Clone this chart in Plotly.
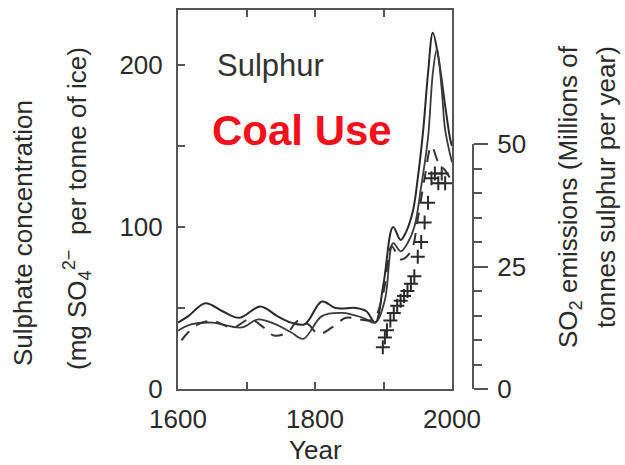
import plotly.graph_objects as go

# ---- data ----
years_a = [1600, 1615, 1640, 1665, 1690, 1720, 1745, 1765, 1785, 1810, 1830, 1860, 1875, 1888,
           1900, 1914, 1925, 1933, 1943, 1950, 1958, 1965, 1972, 1980, 1990, 1997, 2000]
sulph_a = [41, 45, 53, 48, 44, 51, 45, 41, 40, 54, 50, 50, 48, 41,
           65, 100, 92, 97, 110, 130, 160, 195, 220, 205, 175, 155, 150]

years_b = [1600, 1620, 1650, 1693, 1717, 1742, 1765, 1783, 1810, 1840, 1870, 1888,
           1902, 1914, 1925, 1935, 1945, 1955, 1965, 1972, 1978, 1985, 1990, 2000]
sulph_b = [36, 40, 41, 38, 43, 40, 35, 31, 45, 47, 44, 41,
           55, 90, 85, 90, 100, 125, 155, 195, 210, 185, 160, 140]

years_c = [1605, 1615, 1630, 1650, 1680, 1705, 1725, 1740, 1760, 1775, 1790, 1805, 1825, 1845,
           1865, 1885, 1900, 1912, 1925, 1940, 1950, 1960, 1970, 1980, 1990, 2000]
sulph_c = [30, 35, 40, 42, 38, 43, 38, 33, 35, 42, 40, 34, 38, 44,
           43, 43, 60, 88, 80, 85, 105, 130, 150, 140, 135, 128]

years_so2 = [1899, 1902, 1905, 1910, 1915, 1920, 1925, 1930, 1935, 1940, 1945, 1950,
             1955, 1960, 1965, 1970, 1975, 1980, 1985, 1990]
so2 = [8.5, 10.5, 12, 14, 15.5, 17, 18, 19, 20, 21.5, 23, 27,
       30, 34, 38, 43, 44, 42, 44, 42]

x_ticks = [1600, 1700, 1800, 1900, 2000]
x_ticktext = ["1600", "", "1800", "", "2000"]
y_ticks = [0, 50, 100, 150, 200]
y_ticktext = ["0", "", "100", "", "200"]
y2_ticks = [0, 25, 50]

# ---- layout geometry ----
W, H = 625, 465
ML, MR, MT, MB = 178, 145, 10, 76
PW, PH = W - ML - MR, H - MT - MB


def px(xp):
    return (xp - ML) / PW


def py(yp):
    return (H - MB - yp) / PH


FONT = "Liberation Sans, Arial, Helvetica, sans-serif"
INK = "#2a2a2a"
AX = "#555555"

fig = go.Figure()
fig.add_trace(go.Scatter(x=years_a, y=sulph_a, mode="lines", line=dict(color=INK, width=2, shape="spline"),
                         showlegend=False))
fig.add_trace(go.Scatter(x=years_b, y=sulph_b, mode="lines", line=dict(color="#3a3a3a", width=1.8, shape="spline"),
                         showlegend=False))
fig.add_trace(go.Scatter(x=years_c, y=sulph_c, mode="lines",
                         line=dict(color="#333333", width=2, dash="12px,9px", shape="spline"),
                         showlegend=False))
fig.add_trace(go.Scatter(x=years_so2, y=so2, mode="markers", yaxis="y3",
                         marker=dict(symbol="cross-thin", size=10, line=dict(color=INK, width=2)),
                         showlegend=False, cliponaxis=False))

x_end = px(452)
fig.update_layout(
    width=W, height=H,
    margin=dict(l=ML, r=MR, t=MT, b=MB, pad=0, autoexpand=False),
    paper_bgcolor="white", plot_bgcolor="rgba(0,0,0,0)",
    font=dict(family=FONT, size=26, color=INK),
    xaxis=dict(domain=[0, x_end], range=[1600, 2000], tickvals=x_ticks, ticktext=x_ticktext,
               ticks="inside", ticklen=7, tickwidth=1.5, tickcolor=AX, automargin=False,
               showline=True, linecolor=AX, linewidth=2, mirror="ticks",
               showgrid=False, zeroline=False, ticklabelstandoff=6),
    yaxis=dict(domain=[0, 1], range=[0, 234], tickvals=y_ticks, ticktext=y_ticktext,
               ticks="inside", ticklen=7, tickwidth=1.5, tickcolor=AX, automargin=False,
               showline=True, linecolor=AX, linewidth=2, mirror=True,
               showgrid=False, zeroline=False, ticklabelstandoff=8),
    yaxis3=dict(domain=[0, py(144)], range=[0, 50], anchor="free", side="right", automargin=False,
                position=px(473), tickvals=y2_ticks, ticks="outside", ticklen=14, tickwidth=1.5,
                tickcolor=AX, showline=True, linecolor=AX, linewidth=2, showgrid=False, zeroline=False,
                minor=dict(dtick=5, ticks="outside", ticklen=8, tickwidth=1.5, tickcolor=AX),
                ticklabelstandoff=4),
)

annos = [
    dict(text="Sulphate concentration", x=px(23), y=py(233), textangle=-90, size=26, color=INK),
    dict(text="(mg SO<sub>4</sub><sup>2\u2212</sup>  per tonne of ice)", x=px(77), y=py(209), textangle=-90,
         size=26, color=INK),
    dict(text="SO<sub>2</sub> emissions (Millions of", x=px(569), y=py(197), textangle=-90, size=26,
         color=INK),
    dict(text="tonnes sulphur per year)", x=px(606), y=py(187), textangle=-90, size=26, color=INK),
    dict(text="Year", x=px(315), y=py(450), textangle=0, size=26, color=INK),
    dict(text="Sulphur", x=px(270), y=py(65), textangle=0, size=31, color="#333333"),
    dict(text="<b>Coal Use</b>", x=px(302), y=py(130), textangle=0, size=42, color="#f2101c"),
]
for a in annos:
    fig.add_annotation(text=a["text"], x=a["x"], y=a["y"], xref="paper", yref="paper",
                       xanchor="center", yanchor="middle", showarrow=False, textangle=a["textangle"],
                       font=dict(family=FONT, size=a["size"], color=a["color"]))

fig.write_html("out.html")
